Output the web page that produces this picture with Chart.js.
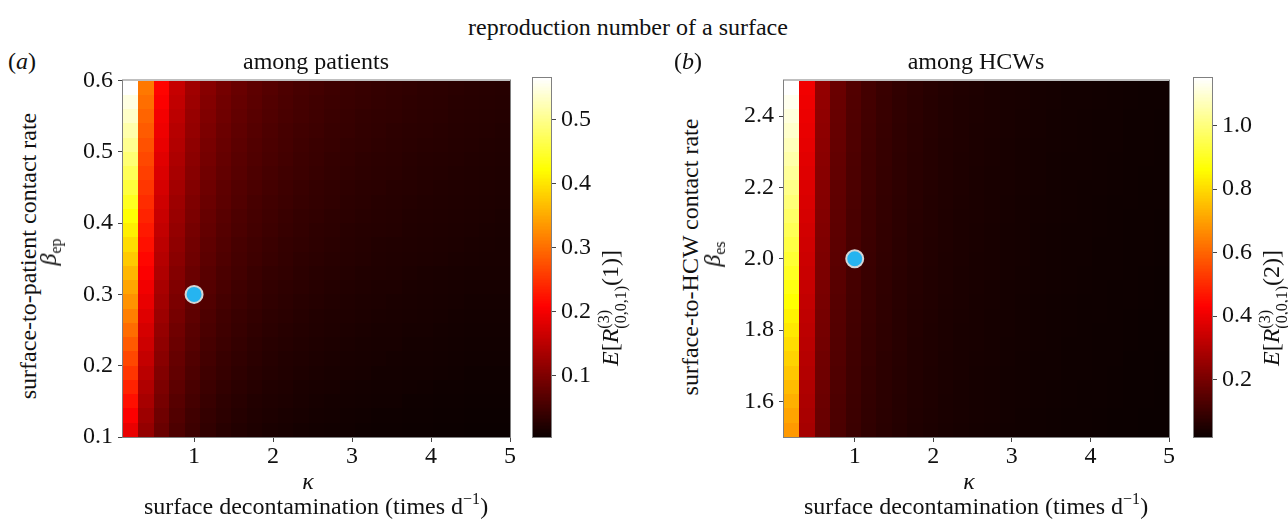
<!DOCTYPE html>
<html>
<head>
<meta charset="utf-8">
<script src="https://cdn.jsdelivr.net/npm/chart.js@4.4.0/dist/chart.umd.min.js"></script>
<script>
// decontamination rate (cell centres) and contact rates (cell centres)
const kappa = [0.198, 0.394, 0.590, 0.786, 0.982, 1.178, 1.374, 1.570, 1.766, 1.962, 2.158, 2.354, 2.550,
  2.746, 2.942, 3.138, 3.334, 3.530, 3.726, 3.922, 4.118, 4.314, 4.510, 4.706, 4.902]
const betaEp = [0.11, 0.13, 0.15, 0.17, 0.19, 0.21, 0.23, 0.25, 0.27, 0.29, 0.31, 0.33, 0.35,
  0.37, 0.39, 0.41, 0.43, 0.45, 0.47, 0.49, 0.51, 0.53, 0.55, 0.57, 0.59]
const betaEs = [1.52, 1.56, 1.60, 1.64, 1.68, 1.72, 1.76, 1.80, 1.84, 1.88, 1.92, 1.96, 2.00,
  2.04, 2.08, 2.12, 2.16, 2.20, 2.24, 2.28, 2.32, 2.36, 2.40, 2.44, 2.48]

// E[R] among patients, one row per kappa, values from low to high beta_ep
const rPatients = [
  [0.190,0.206,0.221,0.237,0.253,0.268,0.284,0.299,0.315,0.331,0.346,0.362,0.378,0.393,0.409,0.424,0.440,0.456,0.471,0.487,0.503,0.518,0.534,0.549,0.565],
  [0.119,0.127,0.135,0.143,0.151,0.159,0.167,0.174,0.182,0.190,0.198,0.206,0.214,0.222,0.230,0.238,0.246,0.254,0.262,0.269,0.277,0.285,0.293,0.301,0.309],
  [0.083,0.088,0.094,0.099,0.104,0.110,0.115,0.120,0.126,0.131,0.136,0.142,0.147,0.152,0.158,0.163,0.168,0.174,0.179,0.184,0.190,0.195,0.200,0.206,0.211],
  [0.060,0.064,0.068,0.073,0.077,0.081,0.085,0.089,0.094,0.098,0.102,0.106,0.111,0.115,0.119,0.123,0.127,0.132,0.136,0.140,0.144,0.148,0.153,0.157,0.161],
  [0.046,0.049,0.053,0.056,0.060,0.063,0.067,0.070,0.074,0.077,0.081,0.084,0.088,0.091,0.094,0.098,0.101,0.105,0.108,0.112,0.115,0.119,0.122,0.126,0.129],
  [0.036,0.039,0.042,0.045,0.048,0.051,0.054,0.057,0.060,0.063,0.066,0.069,0.072,0.075,0.078,0.081,0.084,0.087,0.090,0.093,0.096,0.099,0.102,0.105,0.108],
  [0.029,0.032,0.034,0.037,0.040,0.042,0.045,0.048,0.050,0.053,0.056,0.058,0.061,0.064,0.066,0.069,0.072,0.074,0.077,0.080,0.082,0.085,0.088,0.090,0.093],
  [0.024,0.026,0.029,0.031,0.034,0.036,0.039,0.041,0.043,0.046,0.048,0.051,0.053,0.055,0.058,0.060,0.063,0.065,0.068,0.070,0.072,0.075,0.077,0.080,0.082],
  [0.020,0.022,0.024,0.027,0.029,0.031,0.033,0.035,0.038,0.040,0.042,0.044,0.047,0.049,0.051,0.053,0.055,0.058,0.060,0.062,0.064,0.066,0.069,0.071,0.073],
  [0.017,0.019,0.021,0.023,0.025,0.027,0.029,0.031,0.033,0.035,0.037,0.039,0.042,0.044,0.046,0.048,0.050,0.052,0.054,0.056,0.058,0.060,0.062,0.064,0.066],
  [0.015,0.017,0.019,0.021,0.023,0.024,0.026,0.028,0.030,0.032,0.034,0.036,0.038,0.039,0.041,0.043,0.045,0.047,0.049,0.051,0.053,0.054,0.056,0.058,0.060],
  [0.013,0.015,0.017,0.018,0.020,0.022,0.024,0.025,0.027,0.029,0.031,0.032,0.034,0.036,0.038,0.039,0.041,0.043,0.045,0.046,0.048,0.050,0.052,0.053,0.055],
  [0.011,0.013,0.014,0.016,0.018,0.019,0.021,0.023,0.024,0.026,0.028,0.029,0.031,0.033,0.034,0.036,0.038,0.039,0.041,0.043,0.044,0.046,0.048,0.049,0.051],
  [0.010,0.012,0.013,0.015,0.016,0.018,0.019,0.021,0.022,0.024,0.025,0.027,0.029,0.030,0.032,0.033,0.035,0.036,0.038,0.039,0.041,0.042,0.044,0.045,0.047],
  [0.009,0.010,0.012,0.013,0.015,0.016,0.018,0.019,0.021,0.022,0.024,0.025,0.027,0.028,0.029,0.031,0.032,0.034,0.035,0.037,0.038,0.040,0.041,0.043,0.044],
  [0.008,0.009,0.011,0.012,0.014,0.015,0.016,0.018,0.019,0.020,0.022,0.023,0.025,0.026,0.027,0.029,0.030,0.031,0.033,0.034,0.036,0.037,0.038,0.040,0.041],
  [0.007,0.008,0.010,0.011,0.012,0.014,0.015,0.016,0.018,0.019,0.020,0.022,0.023,0.024,0.026,0.027,0.028,0.030,0.031,0.032,0.034,0.035,0.036,0.038,0.039],
  [0.007,0.008,0.010,0.011,0.012,0.013,0.015,0.016,0.017,0.018,0.020,0.021,0.022,0.023,0.025,0.026,0.027,0.028,0.030,0.031,0.032,0.033,0.035,0.036,0.037],
  [0.006,0.007,0.008,0.010,0.011,0.012,0.013,0.014,0.016,0.017,0.018,0.019,0.021,0.022,0.023,0.024,0.025,0.027,0.028,0.029,0.030,0.031,0.033,0.034,0.035],
  [0.006,0.007,0.008,0.009,0.011,0.012,0.013,0.014,0.015,0.016,0.017,0.018,0.020,0.021,0.022,0.023,0.024,0.025,0.026,0.027,0.029,0.030,0.031,0.032,0.033],
  [0.005,0.006,0.007,0.008,0.010,0.011,0.012,0.013,0.014,0.015,0.016,0.017,0.019,0.020,0.021,0.022,0.023,0.024,0.025,0.026,0.028,0.029,0.030,0.031,0.032],
  [0.005,0.006,0.007,0.008,0.009,0.010,0.011,0.012,0.013,0.014,0.015,0.016,0.018,0.019,0.020,0.021,0.022,0.023,0.024,0.025,0.026,0.027,0.028,0.029,0.030],
  [0.004,0.005,0.006,0.007,0.008,0.009,0.010,0.011,0.012,0.013,0.014,0.015,0.017,0.018,0.019,0.020,0.021,0.022,0.023,0.024,0.025,0.026,0.027,0.028,0.029],
  [0.004,0.005,0.006,0.007,0.008,0.009,0.010,0.011,0.012,0.013,0.014,0.015,0.016,0.017,0.018,0.019,0.020,0.021,0.022,0.023,0.024,0.025,0.026,0.027,0.028],
  [0.004,0.005,0.006,0.007,0.008,0.009,0.010,0.011,0.012,0.013,0.014,0.015,0.016,0.016,0.017,0.018,0.019,0.020,0.021,0.022,0.023,0.024,0.025,0.026,0.027]
]

// E[R] among HCWs, one row per kappa, values from low to high beta_es
const rHCWs = [
  [0.690,0.709,0.728,0.748,0.767,0.786,0.805,0.824,0.843,0.863,0.882,0.901,0.920,0.939,0.958,0.978,0.997,1.016,1.035,1.054,1.073,1.093,1.112,1.131,1.150],
  [0.281,0.286,0.292,0.297,0.303,0.308,0.313,0.319,0.324,0.329,0.335,0.340,0.346,0.351,0.356,0.362,0.367,0.372,0.378,0.383,0.389,0.394,0.399,0.405,0.410],
  [0.176,0.179,0.182,0.185,0.188,0.191,0.195,0.198,0.201,0.204,0.207,0.210,0.213,0.216,0.219,0.222,0.225,0.228,0.231,0.235,0.238,0.241,0.244,0.247,0.250],
  [0.128,0.130,0.132,0.134,0.137,0.139,0.141,0.143,0.145,0.147,0.149,0.151,0.154,0.156,0.158,0.160,0.162,0.164,0.166,0.168,0.171,0.173,0.175,0.177,0.179],
  [0.101,0.103,0.104,0.106,0.108,0.109,0.111,0.112,0.114,0.116,0.117,0.119,0.121,0.122,0.124,0.125,0.127,0.129,0.130,0.132,0.134,0.135,0.137,0.138,0.140],
  [0.083,0.084,0.086,0.087,0.088,0.090,0.091,0.092,0.094,0.095,0.096,0.098,0.099,0.100,0.102,0.103,0.104,0.106,0.107,0.108,0.110,0.111,0.112,0.114,0.115],
  [0.071,0.072,0.073,0.074,0.075,0.076,0.078,0.079,0.080,0.081,0.082,0.083,0.084,0.085,0.086,0.087,0.088,0.089,0.091,0.092,0.093,0.094,0.095,0.096,0.097],
  [0.062,0.063,0.064,0.065,0.066,0.067,0.068,0.068,0.069,0.070,0.071,0.072,0.073,0.074,0.075,0.076,0.077,0.078,0.079,0.079,0.080,0.081,0.082,0.083,0.084],
  [0.054,0.055,0.056,0.057,0.058,0.058,0.059,0.060,0.061,0.062,0.063,0.064,0.065,0.065,0.066,0.067,0.068,0.069,0.070,0.071,0.072,0.072,0.073,0.074,0.075],
  [0.049,0.050,0.051,0.051,0.052,0.053,0.054,0.054,0.055,0.056,0.057,0.057,0.058,0.059,0.060,0.060,0.061,0.062,0.063,0.063,0.064,0.065,0.066,0.066,0.067],
  [0.044,0.045,0.045,0.046,0.047,0.047,0.048,0.049,0.049,0.050,0.051,0.051,0.052,0.053,0.053,0.054,0.055,0.055,0.056,0.057,0.057,0.058,0.059,0.059,0.060],
  [0.040,0.041,0.041,0.042,0.043,0.043,0.044,0.044,0.045,0.046,0.046,0.047,0.048,0.048,0.049,0.049,0.050,0.051,0.051,0.052,0.053,0.053,0.054,0.054,0.055],
  [0.037,0.038,0.038,0.039,0.039,0.040,0.041,0.041,0.042,0.042,0.043,0.043,0.044,0.045,0.045,0.046,0.046,0.047,0.047,0.048,0.049,0.049,0.050,0.050,0.051],
  [0.035,0.036,0.036,0.037,0.037,0.038,0.038,0.039,0.039,0.040,0.040,0.041,0.041,0.042,0.042,0.043,0.043,0.044,0.044,0.045,0.045,0.046,0.046,0.047,0.047],
  [0.032,0.033,0.033,0.034,0.034,0.035,0.035,0.036,0.036,0.037,0.037,0.038,0.038,0.039,0.039,0.040,0.040,0.041,0.041,0.042,0.042,0.043,0.043,0.044,0.044],
  [0.030,0.030,0.031,0.031,0.032,0.032,0.033,0.033,0.034,0.034,0.035,0.035,0.036,0.036,0.036,0.037,0.037,0.038,0.038,0.039,0.039,0.040,0.040,0.041,0.041],
  [0.028,0.028,0.029,0.029,0.030,0.030,0.031,0.031,0.032,0.032,0.033,0.033,0.033,0.034,0.034,0.035,0.035,0.036,0.036,0.037,0.037,0.038,0.038,0.039,0.039],
  [0.027,0.027,0.028,0.028,0.029,0.029,0.029,0.030,0.030,0.030,0.031,0.031,0.032,0.032,0.032,0.033,0.033,0.033,0.034,0.034,0.035,0.035,0.035,0.036,0.036],
  [0.025,0.025,0.026,0.026,0.027,0.027,0.027,0.028,0.028,0.028,0.029,0.029,0.030,0.030,0.030,0.031,0.031,0.031,0.032,0.032,0.033,0.033,0.033,0.034,0.034],
  [0.024,0.024,0.025,0.025,0.026,0.026,0.026,0.027,0.027,0.027,0.028,0.028,0.029,0.029,0.029,0.030,0.030,0.030,0.031,0.031,0.032,0.032,0.032,0.033,0.033],
  [0.023,0.023,0.024,0.024,0.024,0.025,0.025,0.025,0.026,0.026,0.026,0.027,0.027,0.027,0.028,0.028,0.028,0.029,0.029,0.029,0.030,0.030,0.030,0.031,0.031],
  [0.022,0.022,0.023,0.023,0.023,0.024,0.024,0.024,0.025,0.025,0.025,0.026,0.026,0.026,0.027,0.027,0.027,0.028,0.028,0.028,0.029,0.029,0.029,0.030,0.030],
  [0.021,0.021,0.022,0.022,0.022,0.022,0.023,0.023,0.023,0.024,0.024,0.024,0.025,0.025,0.025,0.025,0.026,0.026,0.026,0.027,0.027,0.027,0.027,0.028,0.028],
  [0.020,0.020,0.021,0.021,0.021,0.021,0.022,0.022,0.022,0.023,0.023,0.023,0.024,0.024,0.024,0.024,0.025,0.025,0.025,0.026,0.026,0.026,0.026,0.027,0.027],
  [0.019,0.019,0.020,0.020,0.020,0.020,0.021,0.021,0.021,0.022,0.022,0.022,0.023,0.023,0.023,0.023,0.024,0.024,0.024,0.025,0.025,0.025,0.025,0.026,0.026]
]

// baseline parameter values (blue dots)
const baseKappa = [1, 1]
const baseBeta = [0.3, 2.0]

const kappaTicks = [1, 2, 3, 4, 5]
const betaEpTicks = [0.1, 0.2, 0.3, 0.4, 0.5, 0.6]
const betaEsTicks = [1.6, 1.8, 2.0, 2.2, 2.4]
const cbarEpTicks = [0.1, 0.2, 0.3, 0.4, 0.5]
const cbarEsTicks = [0.2, 0.4, 0.6, 0.8, 1.0]
</script>
<style>
  body { margin: 0; background: #fff; }
  #fig { position: relative; width: 1288px; height: 520px; overflow: hidden;
    font-family: "Liberation Serif", "Times New Roman", serif; color: #111; }
  .box { position: absolute; }
  .txt { position: absolute; font-size: 24px; white-space: nowrap; line-height: 1; }
  .c { transform: translate(-50%, -50%); }
  .rot { transform: translate(-50%, -50%) rotate(-90deg); }
  .txt sub { font-size: 16px; vertical-align: -5px; line-height: 0; }
  .txt sup { font-size: 16px; vertical-align: 10px; line-height: 0; }
  .ss { display: inline-flex; flex-direction: column; font-size: 16px; line-height: 17px; vertical-align: 9px; }
</style>
</head>
<body>
<div id="fig">
  <div class="box" style="left:60px;top:70px"><canvas id="heatEp" width="470" height="400"></canvas></div>
  <div class="box" style="left:530px;top:70px"><canvas id="cbarEp" width="75" height="400"></canvas></div>
  <div class="box" style="left:720px;top:70px"><canvas id="heatEs" width="470" height="400"></canvas></div>
  <div class="box" style="left:1191px;top:70px"><canvas id="cbarEs" width="97" height="400"></canvas></div>

  <div class="txt c" style="left:628px;top:27px">reproduction number of a surface</div>
  <div class="txt c" style="left:22px;top:61px">(<i>a</i>)</div>
  <div class="txt c" style="left:316px;top:61px">among patients</div>
  <div class="txt c" style="left:688px;top:61px">(<i>b</i>)</div>
  <div class="txt c" style="left:976px;top:61px">among HCWs</div>

  <div class="txt rot" style="left:28px;top:256px">surface-to-patient contact rate</div>
  <div class="txt rot" style="left:48px;top:252px"><i>β</i><sub>ep</sub></div>
  <div class="txt rot" style="left:690px;top:257px">surface-to-HCW contact rate</div>
  <div class="txt rot" style="left:712px;top:254px"><i>β</i><sub>es</sub></div>

  <div class="txt c" style="left:308px;top:481px"><i>κ</i></div>
  <div class="txt c" style="left:316px;top:506px">surface decontamination (times d<sup>−1</sup>)</div>
  <div class="txt c" style="left:969px;top:481px"><i>κ</i></div>
  <div class="txt c" style="left:976px;top:506px">surface decontamination (times d<sup>−1</sup>)</div>

  <div class="txt rot" style="left:612px;top:308px"><i>E</i>[<i>R</i><span class="ss"><span>(3)</span><span>(0,0,1)</span></span>(1)]</div>
  <div class="txt rot" style="left:1273px;top:308px"><i>E</i>[<i>R</i><span class="ss"><span>(3)</span><span>(0,0,1)</span></span>(2)]</div>
</div>

<script>
Chart.defaults.font.family = "'Liberation Serif', 'Times New Roman', serif"
Chart.defaults.font.size = 24
Chart.defaults.color = '#111'
var spineColor = '#808080'

// matplotlib "hot" colormap
function hot(t) {
  t = Math.min(1, Math.max(0, t))
  var r = t < 0.365079 ? 0.0416 + 0.9584 * t / 0.365079 : 1
  var g = t < 0.365079 ? 0 : (t < 0.746032 ? (t - 0.365079) / 0.380953 : 1)
  var b = t < 0.746032 ? 0 : (t - 0.746032) / 0.253968
  return 'rgb(' + Math.round(r * 255) + ',' + Math.round(g * 255) + ',' + Math.round(b * 255) + ')'
}

function edges(c) {
  var e = [c[0] - (c[1] - c[0]) / 2]
  for (var i = 1; i < c.length; i++) e.push((c[i - 1] + c[i]) / 2)
  e.push(c[c.length - 1] + (c[c.length - 1] - c[c.length - 2]) / 2)
  return e
}

function range(grid) {
  var all = [].concat.apply([], grid)
  return [Math.min.apply(null, all), Math.max.apply(null, all)]
}

function spine(chart) {
  var a = chart.chartArea, ctx = chart.ctx
  ctx.save()
  ctx.strokeStyle = spineColor
  ctx.lineWidth = 1
  ctx.strokeRect(a.left - 0.5, a.top - 0.5, a.right - a.left + 1, a.bottom - a.top + 1)
  ctx.restore()
}

// fixed tick positions, outward tick marks, no grid inside the plot
function axisTicks(list, fmt, size, pad) {
  return {
    afterBuildTicks: function(s) { s.ticks = list.map(function(v) { return { value: v } }) },
    afterFit: function(s) {
      if (s.isHorizontal()) { s.height = size; s.paddingLeft = 0; s.paddingRight = 0 }
      else { s.width = size; s.paddingTop = 0; s.paddingBottom = 0 }
    },
    ticks: { padding: pad, autoSkip: false, maxRotation: 0, callback: function(v) { return fmt(v) } },
    grid: { drawOnChartArea: false, drawTicks: true, tickLength: 5, color: '#444', lineWidth: 1 },
    border: { display: false }
  }
}

function heatmap(id, rows, cols, grid, yTicks, yPad, padRight, bx, by) {
  var xe = edges(rows), ye = edges(cols), vr = range(grid)
  var xAxis = axisTicks(kappaTicks, function(v) { return String(v) }, 33, 0)
  xAxis.type = 'linear'
  xAxis.min = xe[0]
  xAxis.max = xe[xe.length - 1]
  var yAxis = axisTicks(yTicks, function(v) { return v.toFixed(1) }, yPad, 5)
  yAxis.type = 'linear'
  yAxis.min = ye[0]
  yAxis.max = ye[ye.length - 1]

  return new Chart(document.getElementById(id), {
    type: 'scatter',
    data: { datasets: [{
      data: [{ x: bx, y: by }],
      pointRadius: 8.5, pointHoverRadius: 8.5,
      backgroundColor: '#26b4f0', borderColor: '#d4d4d4', borderWidth: 2
    }] },
    options: {
      responsive: false, animation: false, events: [],
      layout: { padding: { left: 0, right: padRight, top: 8, bottom: 0 } },
      plugins: { legend: { display: false }, tooltip: { enabled: false } },
      scales: { x: xAxis, y: yAxis }
    },
    plugins: [{
      id: 'cells',
      beforeDatasetsDraw: function(chart) {
        var ctx = chart.ctx, x = chart.scales.x, y = chart.scales.y
        for (var i = 0; i < rows.length; i++) {
          var x0 = Math.round(x.getPixelForValue(xe[i])), x1 = Math.round(x.getPixelForValue(xe[i + 1]))
          for (var j = 0; j < cols.length; j++) {
            var y0 = Math.round(y.getPixelForValue(ye[j])), y1 = Math.round(y.getPixelForValue(ye[j + 1]))
            ctx.fillStyle = hot((grid[i][j] - vr[0]) / (vr[1] - vr[0]))
            ctx.fillRect(x0, y1, x1 - x0, y0 - y1)
          }
        }
        spine(chart)
      }
    }]
  })
}

function colorbar(id, grid, ticks, width) {
  var vr = range(grid)
  var yAxis = axisTicks(ticks, function(v) { return v.toFixed(1) }, width - 21, 5)
  yAxis.position = 'right'
  yAxis.min = vr[0]
  yAxis.max = vr[1]
  return new Chart(document.getElementById(id), {
    type: 'scatter',
    data: { datasets: [] },
    options: {
      responsive: false, animation: false, events: [],
      layout: { padding: { left: 3, right: 0, top: 8, bottom: 33 } },
      plugins: { legend: { display: false }, tooltip: { enabled: false } },
      scales: { x: { display: false }, y: yAxis }
    },
    plugins: [{
      id: 'gradient',
      beforeDatasetsDraw: function(chart) {
        var ctx = chart.ctx, a = chart.chartArea, y = chart.scales.y, n = 256
        for (var k = 0; k < n; k++) {
          var y0 = y.getPixelForValue(vr[0] + (vr[1] - vr[0]) * k / n)
          var y1 = y.getPixelForValue(vr[0] + (vr[1] - vr[0]) * (k + 1) / n)
          ctx.fillStyle = hot((k + 0.5) / n)
          ctx.fillRect(a.left, Math.floor(y1), a.right - a.left, Math.ceil(y0) - Math.floor(y1))
        }
        spine(chart)
      }
    }]
  })
}

heatmap('heatEp', kappa, betaEp, rPatients, betaEpTicks, 63, 20, baseKappa[0], baseBeta[0])
colorbar('cbarEp', rPatients, cbarEpTicks, 75)
heatmap('heatEs', kappa, betaEs, rHCWs, betaEsTicks, 64, 21, baseKappa[1], baseBeta[1])
colorbar('cbarEs', rHCWs, cbarEsTicks, 97)
</script>
</body>
</html>
